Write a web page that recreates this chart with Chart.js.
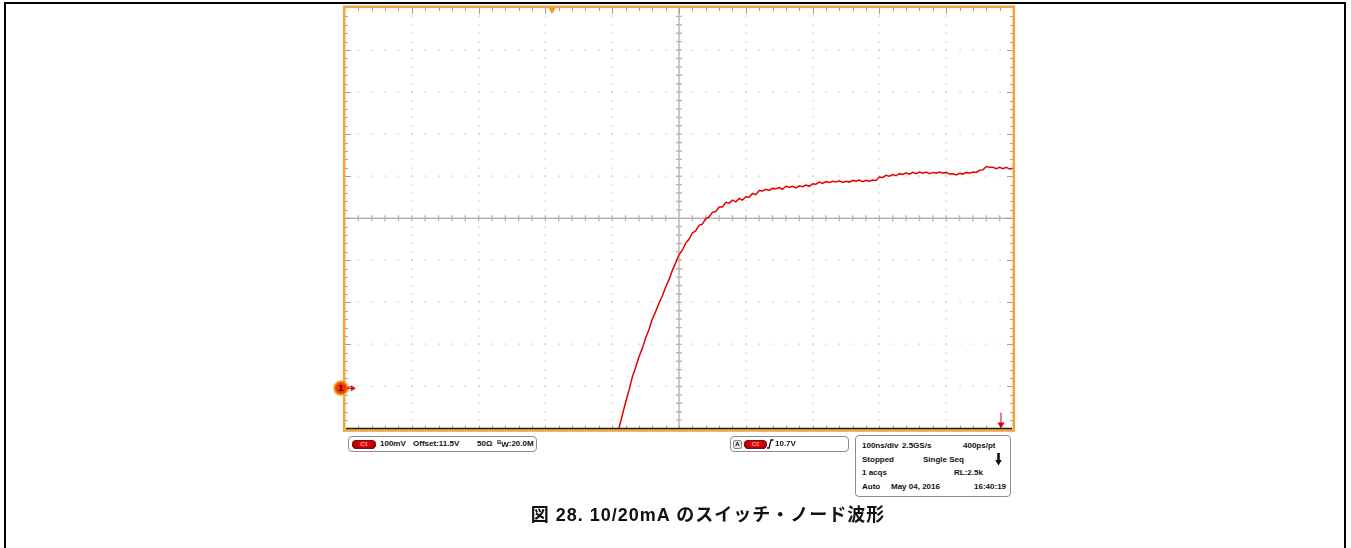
<!DOCTYPE html>
<html>
<head>
<meta charset="utf-8">
<script src="https://cdn.jsdelivr.net/npm/chart.js@4"></script>
<style>
  html, body { margin: 0; padding: 0; background: #fff; }
  body { width: 1351px; height: 548px; position: relative; overflow: hidden;
         font-family: "Liberation Sans", Arial, sans-serif; }
  #frame { position: absolute; left: 4px; top: 2px; width: 1338px; height: 600px;
           border: 2px solid #000; border-bottom: none; }
  #scope { position: absolute; left: 0; top: 0; }
  .box { position: absolute; border: 1px solid #8c8c8c; border-radius: 4px; box-sizing: border-box; background: #fff; }
  .t { position: absolute; font-weight: bold; font-size: 8px; line-height: 10px; white-space: nowrap; color: #111; }
  .pill { position: absolute; width: 24px; height: 9px; border-radius: 5px;
          background: radial-gradient(ellipse at 50% 40%, #f01818 0%, #c00000 55%, #6a0000 100%);
          box-shadow: 0 0 0 1px #7a1010 inset; }
  .pill span { position: absolute; left: 0; right: 0; top: 0; text-align: center; font-size: 6px;
               line-height: 9px; font-weight: bold; color: #ff9a9a; }
  .abox { position: absolute; width: 9px; height: 9px; border: 1px solid #888; border-radius: 2px;
          background: #e4e4e4; box-sizing: border-box; font-size: 6px; line-height: 7px; font-weight: bold; text-align: center; }
  #caption { position: absolute; left: 0; width: 1416px; top: 500px; text-align: center; letter-spacing: 1px;
             font-family: "Liberation Sans", "Noto Sans CJK JP", sans-serif; font-weight: bold; font-size: 18px; color: #111; }
</style>
</head>
<body>
<div id="frame"></div>
<canvas id="scope" width="1351" height="548"></canvas>

<!-- channel readout -->
<div class="box" style="left:348px;top:436px;width:189px;height:16px;"></div>
<div class="pill" style="left:352px;top:439.5px;"><span>C1</span></div>
<div class="t" style="left:380px;top:439px;">100mV</div>
<div class="t" style="left:413px;top:439px;">Offset:11.5V</div>
<div class="t" style="left:477px;top:439px;">50Ω</div>
<div class="t" style="left:497px;top:439px;"><span style="font-size:6px;position:relative;top:-2px;">B</span><span style="position:relative;top:1px;">W</span>:20.0M</div>

<!-- trigger readout -->
<div class="box" style="left:730px;top:436px;width:119px;height:16px;"></div>
<div class="abox" style="left:733px;top:439.5px;">A</div>
<div class="pill" style="left:744px;top:439.5px;width:23px;"><span>C1</span></div>
<svg style="position:absolute;left:766px;top:439px;" width="8" height="10">
  <path d="M1 9 L3 9 L5 1 L7.5 1" fill="none" stroke="#111" stroke-width="1.3"/>
</svg>
<div class="t" style="left:775px;top:439px;">10.7V</div>

<!-- acquisition readout -->
<div class="box" style="left:855px;top:435px;width:156px;height:62px;"></div>
<div class="t" style="left:862px;top:441px;">100ns/div</div>
<div class="t" style="left:902px;top:441px;">2.5GS/s</div>
<div class="t" style="left:963px;top:441px;">400ps/pt</div>
<div class="t" style="left:862px;top:455px;">Stopped</div>
<div class="t" style="left:923px;top:455px;">Single Seq</div>
<svg style="position:absolute;left:995px;top:453px;" width="7" height="13">
  <rect x="2.2" y="0" width="2.6" height="8" fill="#111"/>
  <path d="M0.2 7 L6.8 7 L3.5 12.5 Z" fill="#111"/>
</svg>
<div class="t" style="left:862px;top:468px;">1 acqs</div>
<div class="t" style="left:954px;top:468px;">RL:2.5k</div>
<div class="t" style="left:862px;top:482px;">Auto</div>
<div class="t" style="left:891px;top:482px;">May 04, 2016</div>
<div class="t" style="left:974px;top:482px;">16:40:19</div>

<div id="caption">図 28. 10/20mA のスイッチ・ノード波形</div>

<script>
// CH1 switch-node trace, sampled every 5 ns starting at -90 ns (volts)
const timeStart = -90;
const timeStep = 5;
const ch1Volts = [
  11.000, 11.031, 11.062, 11.090, 11.122, 11.145, 11.170, 11.190, 11.215, 11.235,
  11.260, 11.278, 11.298, 11.315, 11.336, 11.354, 11.376, 11.394, 11.413, 11.424,
  11.441, 11.450, 11.465, 11.470, 11.483, 11.486, 11.499, 11.503, 11.514, 11.516,
  11.527, 11.527, 11.538, 11.536, 11.543, 11.539, 11.547, 11.543, 11.551, 11.550,
  11.559, 11.556, 11.566, 11.565, 11.569, 11.566, 11.571, 11.570, 11.573, 11.569,
  11.576, 11.574, 11.576, 11.572, 11.577, 11.575, 11.579, 11.576, 11.582, 11.581,
  11.586, 11.583, 11.587, 11.585, 11.588, 11.586, 11.589, 11.585, 11.588, 11.586,
  11.590, 11.588, 11.591, 11.587, 11.590, 11.588, 11.591, 11.590, 11.598, 11.597,
  11.602, 11.600, 11.604, 11.601, 11.606, 11.604, 11.608, 11.605, 11.609, 11.606,
  11.610, 11.607, 11.610, 11.606, 11.609, 11.607, 11.610, 11.607, 11.609, 11.605,
  11.606, 11.603, 11.607, 11.605, 11.609, 11.607, 11.610, 11.609, 11.614, 11.615,
  11.623, 11.621, 11.621, 11.618, 11.621, 11.618, 11.621, 11.617, 11.619
];

// screen: 10 x 10 divisions, 100 ns/div, 100 mV/div around 11.5 V offset
const timeMin = -500, timeMax = 500, timeDiv = 100;
const voltMin = 11.0, voltMax = 12.0, voltDiv = 0.1;
const ch1Level = 11.096;   // channel 1 position marker
const trigPos = -190;      // trigger position marker (ns)
const edgeMark = 482;      // red marker on the bottom edge (ns)

const trace = ch1Volts.map((v, i) => ({ x: timeStart + i * timeStep, y: v }));

const graticule = {
  id: 'graticule',
  beforeDatasetsDraw(chart) {
    const { ctx, chartArea: a, scales: { x, y } } = chart;
    const xs = [], ys = [];
    for (let i = 0; i <= 50; i++) xs.push(x.getPixelForValue(timeMin + i * timeDiv / 5));
    for (let i = 0; i <= 50; i++) ys.push(y.getPixelForValue(voltMin + i * voltDiv / 5));
    ctx.save();
    // dotted major lines
    ctx.fillStyle = '#bdbdbd';
    for (let i = 5; i < 50; i += 5) {
      if (i === 25) continue;
      for (let j = 1; j < 50; j++) {
        ctx.fillRect(Math.round(xs[i]) - 0.5, Math.round(ys[j]) - 0.5, 1.2, 1.2);
        ctx.fillRect(Math.round(xs[j]) - 0.5, Math.round(ys[i]) - 0.5, 1.2, 1.2);
      }
    }
    // centre crosshair with minor ticks
    const xc = xs[25], yc = ys[25];
    ctx.strokeStyle = '#bdb1b1';
    ctx.lineWidth = 1.4;
    ctx.beginPath();
    ctx.moveTo(xc, a.top); ctx.lineTo(xc, a.bottom);
    ctx.moveTo(a.left, yc); ctx.lineTo(a.right, yc);
    for (let j = 1; j < 50; j++) {
      ctx.moveTo(xc - 3, ys[j]); ctx.lineTo(xc + 3, ys[j]);
      ctx.moveTo(xs[j], yc - 3); ctx.lineTo(xs[j], yc + 3);
    }
    ctx.stroke();
    // edge ticks
    ctx.strokeStyle = '#a89a9a';
    ctx.lineWidth = 1;
    ctx.beginPath();
    for (let j = 1; j < 50; j++) {
      const len = j % 5 === 0 ? 6 : 3;
      ctx.moveTo(a.left, Math.round(ys[j]) + 0.5); ctx.lineTo(a.left + len, Math.round(ys[j]) + 0.5);
      ctx.moveTo(a.right, Math.round(ys[j]) + 0.5); ctx.lineTo(a.right - len, Math.round(ys[j]) + 0.5);
      ctx.moveTo(Math.round(xs[j]) + 0.5, a.top); ctx.lineTo(Math.round(xs[j]) + 0.5, a.top + len);
      ctx.moveTo(Math.round(xs[j]) + 0.5, a.bottom); ctx.lineTo(Math.round(xs[j]) + 0.5, a.bottom - 3);
    }
    ctx.stroke();
    ctx.restore();
  },
  afterDatasetsDraw(chart) {
    const { ctx, chartArea: a, scales: { x, y } } = chart;
    ctx.save();
    // bezel
    ctx.strokeStyle = '#f3a53d';
    ctx.lineWidth = 2.6;
    ctx.strokeRect(a.left - 0.8, a.top - 1.2, a.right - a.left + 1.6, a.bottom - a.top + 3.2);
    ctx.strokeStyle = '#1a1a1a';
    ctx.lineWidth = 1.4;
    ctx.beginPath();
    ctx.moveTo(a.left + 1, a.bottom); ctx.lineTo(a.right - 1, a.bottom);
    ctx.stroke();

    // trigger position
    const tx = x.getPixelForValue(trigPos);
    ctx.fillStyle = '#f39a1c';
    ctx.beginPath();
    ctx.moveTo(tx - 3.5, a.top); ctx.lineTo(tx + 3.5, a.top); ctx.lineTo(tx, a.top + 6);
    ctx.closePath(); ctx.fill();

    // bottom edge marker
    const ex = x.getPixelForValue(edgeMark);
    ctx.strokeStyle = '#e00000';
    ctx.fillStyle = '#e00000';
    ctx.lineWidth = 1;
    ctx.beginPath();
    ctx.moveTo(ex, a.bottom - 16); ctx.lineTo(ex, a.bottom - 4);
    ctx.stroke();
    ctx.beginPath();
    ctx.moveTo(ex - 3.5, a.bottom - 6); ctx.lineTo(ex + 3.5, a.bottom - 6); ctx.lineTo(ex, a.bottom);
    ctx.closePath(); ctx.fill();

    // channel 1 position marker
    const gy = y.getPixelForValue(ch1Level);
    const gx = a.left - 4;
    const g = ctx.createRadialGradient(gx, gy, 1, gx, gy, 8.5);
    g.addColorStop(0, '#ff2a00');
    g.addColorStop(0.5, '#f03a00');
    g.addColorStop(0.78, '#f7a020');
    g.addColorStop(1, 'rgba(250,190,80,0)');
    ctx.fillStyle = g;
    ctx.beginPath(); ctx.arc(gx, gy, 8.5, 0, Math.PI * 2); ctx.fill();
    ctx.fillStyle = '#300000';
    ctx.font = 'bold 9px "Liberation Sans", Arial, sans-serif';
    ctx.textAlign = 'center';
    ctx.textBaseline = 'middle';
    ctx.fillText('1', gx, gy + 0.5);
    ctx.strokeStyle = '#e01010';
    ctx.fillStyle = '#e01010';
    ctx.lineWidth = 1.5;
    ctx.beginPath(); ctx.moveTo(gx + 6, gy); ctx.lineTo(gx + 11, gy); ctx.stroke();
    ctx.beginPath();
    ctx.moveTo(gx + 10, gy - 3); ctx.lineTo(gx + 15, gy); ctx.lineTo(gx + 10, gy + 3);
    ctx.closePath(); ctx.fill();
    ctx.restore();
  }
};

new Chart(document.getElementById('scope'), {
  type: 'line',
  data: {
    datasets: [{
      label: 'C1',
      data: trace,
      borderColor: '#e40000',
      borderWidth: 1.5,
      pointRadius: 0,
      tension: 0,
      clip: 0
    }]
  },
  options: {
    responsive: false,
    animation: false,
    devicePixelRatio: 1,
    layout: { padding: { left: 345, right: 338, top: 8, bottom: 119.5 } },
    plugins: { legend: { display: false }, tooltip: { enabled: false } },
    scales: {
      x: { type: 'linear', min: timeMin, max: timeMax, display: false },
      y: { type: 'linear', min: voltMin, max: voltMax, display: false }
    }
  },
  plugins: [graticule]
});
</script>
</body>
</html>
